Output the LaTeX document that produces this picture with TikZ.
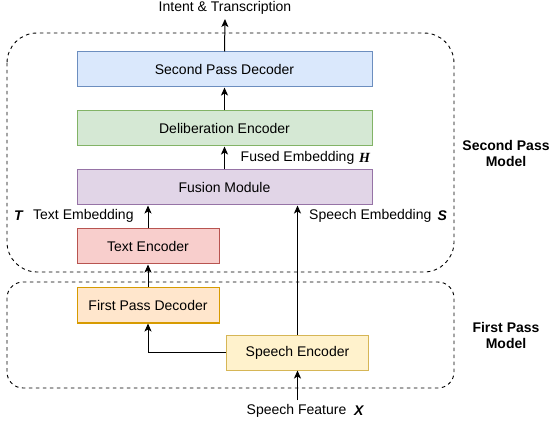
\documentclass[tikz,border=0pt]{standalone}
\usepackage{fontspec}
\setmainfont{Liberation Sans}
\newfontfamily\serifbi{Liberation Serif}[BoldItalicFont={* Bold Italic}]
\usetikzlibrary{arrows.meta}
\definecolor{blueF}{HTML}{DAE8FC}\definecolor{blueD}{HTML}{6C8EBF}
\definecolor{greenF}{HTML}{D5E8D4}\definecolor{greenD}{HTML}{82B366}
\definecolor{purpF}{HTML}{E1D5E7}\definecolor{purpD}{HTML}{9673A6}
\definecolor{redF}{HTML}{F8CECC}\definecolor{redD}{HTML}{B85450}
\definecolor{orF}{HTML}{FFE6CC}\definecolor{orD}{HTML}{D79B00}
\definecolor{yelF}{HTML}{FFF2CC}\definecolor{yelD}{HTML}{D6B656}
\tikzset{
  blk/.style={draw, line width=1pt, minimum height=35pt, inner sep=0pt, font=\fontsize{14}{16}\selectfont},
  wide/.style={blk, minimum width=295pt},
  narrow/.style={blk, minimum width=142pt},
  lbl/.style={inner sep=0pt, font=\fontsize{14}{16}\selectfont},
  var/.style={inner sep=0pt, font=\fontsize{14}{16}\selectfont\bfseries\itshape},
  grp/.style={draw, line width=0.9pt, dash pattern=on 3.5pt off 3.5pt},
  conn/.style={line width=1pt, -{Stealth[length=8pt,width=7pt,inset=2pt]}},
}
\begin{document}
\begin{tikzpicture}[x=1pt,y=-1pt]
\useasboundingbox (0,0) rectangle (551,427);
% groups
\draw[grp, rounded corners=30pt] (7,33) rectangle (454,272);
\draw[grp, rounded corners=16pt] (7,282) rectangle (454,388);
% blocks
\node[wide, fill=blueF, draw=blueD] (dec) at (224.5,69.5) {Second Pass Decoder};
\node[wide, fill=greenF, draw=greenD] (delib) at (224.5,128.5) {Deliberation Encoder};
\node[wide, fill=purpF, draw=purpD] (fus) at (224.5,187.5) {Fusion Module};
\node[narrow, fill=redF, draw=redD] (tenc) at (148,246.5) {Text Encoder};
\node[narrow, fill=orF, draw=orD] (fdec) at (148,305.5) {First Pass Decoder};
\node[narrow, fill=yelF, draw=yelD] (senc) at (297.5,352.5) {Speech Encoder};
% texts
\node[lbl, anchor=base] (title) at (225,11.5) {Intent \& Transcription};
\coordinate (outtip) at (225,19);
\node[lbl, anchor=west] (fused) at (240.5,157.5) {Fused Embedding};
\node[anchor=west, inner sep=0pt, font=\fontsize{14}{16}\selectfont\serifbi\bfseries\itshape] (hvar) at (359,157.5) {H};
\node[var, anchor=west] (tvar) at (14,216) {T};
\node[lbl, anchor=west] (temb) at (33,216) {Text Embedding};
\node[lbl, anchor=west] (semb) at (309,216) {Speech Embedding};
\node[var, anchor=west] (svar) at (437.5,216) {S};
\node[lbl, anchor=west] (sfeat) at (246.5,411) {Speech Feature};
\node[var, anchor=west] (xvar) at (354,411) {X};
\coordinate (intail) at (297.5,400);
\node[lbl, font=\fontsize{14}{16.5}\selectfont\bfseries, align=center] (spm) at (506,153.5) {Second Pass\\Model};
\node[lbl, font=\fontsize{14}{16.5}\selectfont\bfseries, align=center] (fpm) at (506,335.5) {First Pass\\Model};
% connectors
\draw[conn] (dec.north) -- (outtip);
\draw[conn] (delib.north) -- (dec.south);
\draw[conn] (fus.north) -- (delib.south);
\draw[conn] (tenc.north) -- (fus.south -| tenc.north);
\draw[conn] (fdec.north) -- (tenc.south);
\draw[conn] (senc.north) -- (fus.south -| senc.north);
\draw[conn] (senc.west) -| (fdec.south);
\draw[conn] (intail) -- (senc.south);
\end{tikzpicture}
\end{document}
